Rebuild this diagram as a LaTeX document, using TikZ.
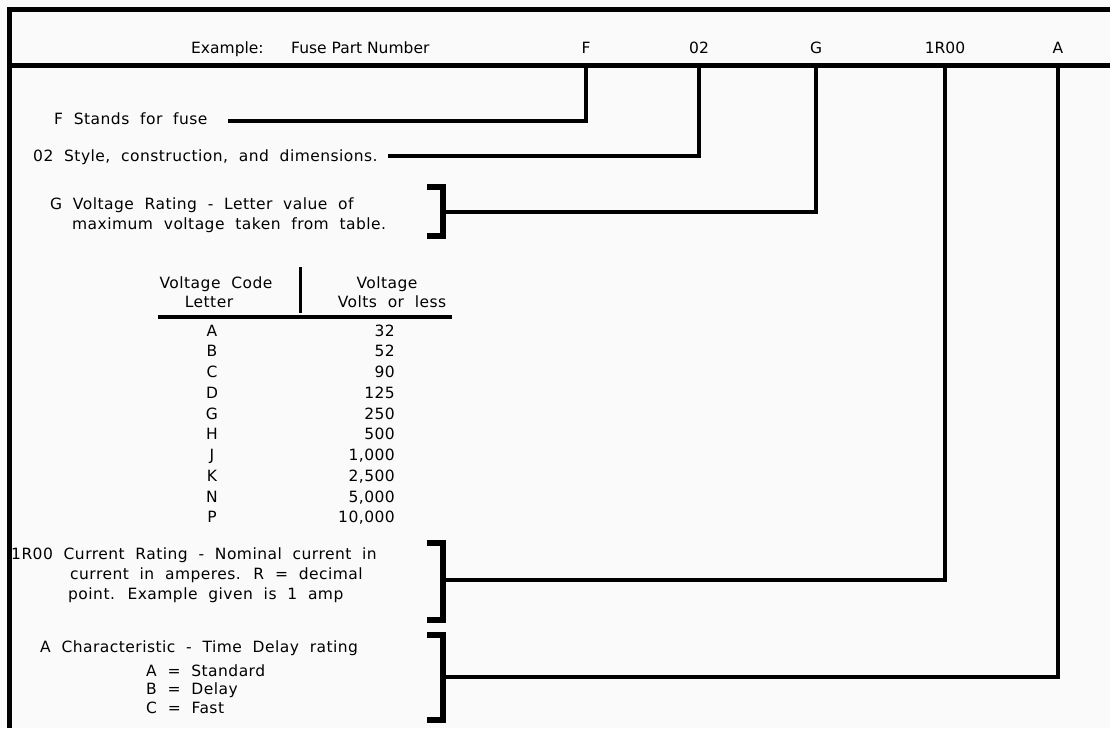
\documentclass[tikz,border=0pt]{standalone}
\usepackage{fontspec}
\setmainfont{DejaVu Sans}
\newfontfamily\pixfont[LetterSpace=3,WordSpace=2]{DejaVu Sans}
\usetikzlibrary{calc}

\begin{document}
\begin{tikzpicture}[x=1pt,y=-1pt,
  frame/.style={line width=5pt},
  conn/.style={line width=4.5pt},
  brk/.style={line width=6pt},
  txt/.style={font=\pixfont\fontsize{15.5}{20}\selectfont,anchor=base west,inner sep=0pt},
  hd/.style={font=\fontsize{15.5}{20}\selectfont,anchor=base,inner sep=0pt}]
\fill[black!2] (0,0) rectangle (1110,728);
\useasboundingbox (0,0) rectangle (1110,728);

% frame and header band
\draw[frame] (1110,9.5) -- (9.5,9.5) -- (9.5,728);
\draw[frame] (9.5,65) -- (1110,65);
\coordinate (sep) at (9.5,65);

% part number
\node[hd,anchor=base west] (ex) at (191,53) {Example:};
\node[hd,anchor=base west] (fpn) at (291,53) {Fuse Part Number};
\foreach \x/\c/\n in {586/F/cF, 699/02/cD, 816/G/cG, 945/1R00/cR, 1058/A/cA}
  \node[hd] (\n) at (\x,53) {\c};

% F and 02
\node[txt] (tF) at (54,124) {F Stands for fuse};
\node[txt] (tD) at (33,161) {02 Style, construction, and dimensions.};
\coordinate (fS) at (228,121);
\coordinate (dS) at (388,156);
\draw[conn] (fS) -| (cF |- sep);
\draw[conn] (dS) -| (cD |- sep);

% G
\node[txt] (tG1) at (50,209) {G Voltage Rating - Letter value of};
\node[txt] (tG2) at (72,229) {maximum voltage taken from table.};
\coordinate (gB) at (443,212);
\draw[brk] (427,187) -| (gB) |- (427,236);
\draw[conn] (gB) -| (cG |- sep);

% voltage table
\node[txt,anchor=base] (h1) at (216,288) {Voltage Code};
\node[txt,anchor=base] (h2) at (209,307) {Letter};
\node[txt,anchor=base] (h3) at (387,288) {Voltage};
\node[txt,anchor=base] (h4) at (392,307) {Volts or less};
\draw[line width=3pt] (300,267) -- (300,313);
\draw[line width=4pt] (158,317) -- (452,317);
\foreach \l/\v [count=\i from 0] in {A/32,B/52,C/90,D/125,G/250,H/500,J/{1,000},K/{2,500},N/{5,000},P/{10,000}} {
  \node[txt,anchor=base] (l\i) at (212,{336+20.75*\i}) {\l};
  \node[txt,anchor=base east] (v\i) at (395,{336+20.75*\i}) {\v};
}

% 1R00
\node[txt] (r1) at (11,559) {1R00 Current Rating - Nominal current in};
\node[txt] (r2) at (70,579) {current in amperes. R = decimal};
\node[txt] (r3) at (68,599) {point. Example given is 1 amp};
\coordinate (rB) at (443,580);
\draw[brk] (427,543) -| (rB) |- (427,620);
\draw[conn] (rB) -| (cR |- sep);

% A
\node[txt] (a1) at (40,652) {A Characteristic - Time Delay rating};
\node[txt] (a2) at (146,676) {A = Standard};
\node[txt] (a3) at (146,694) {B = Delay};
\node[txt] (a4) at (146,713) {C = Fast};
\coordinate (aB) at (443,677);
\draw[brk] (427,635) -| (aB) |- (427,720);
\draw[conn] (aB) -| (cA |- sep);
\end{tikzpicture}
\end{document}
